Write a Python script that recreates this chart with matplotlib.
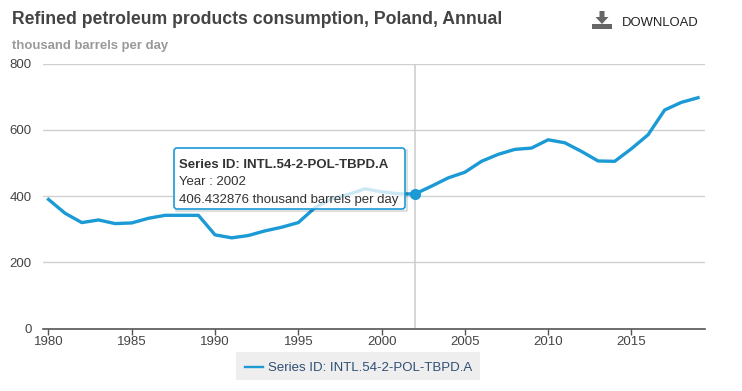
import matplotlib
matplotlib.use("Agg")
import matplotlib.pyplot as plt
from matplotlib.patches import FancyBboxPatch, Rectangle, Polygon

plt.rcParams['font.family'] = ['Liberation Sans', 'DejaVu Sans']

W, H = 742, 391

years = list(range(1980, 2020))
consumption = [390, 348, 320, 328, 317, 319, 333, 342, 342, 342,
               283, 274, 281, 295, 306, 320, 365, 392, 405, 422,
               413, 407, 406.432876, 430, 455, 472, 505, 526, 541, 545,
               570, 561, 535, 506, 505, 543, 585, 660, 683, 697]
y_ticks = [0, 200, 400, 600, 800]
x_ticks = [1980, 1985, 1990, 1995, 2000, 2005, 2010, 2015]
series_name = "Series ID: INTL.54-2-POL-TBPD.A"
hover_year = 2002
hover_value = 406.432876

blue = "#1b9ad6"


# figure coords from reference pixels (y counted from the top)
def fx(px):
    return px / W


def fy(py):
    return 1 - py / H


fig = plt.figure(figsize=(W / 100, H / 100), dpi=100, facecolor="white")
ax = fig.add_axes([fx(43), fy(328.6), (705 - 43) / W, (328.6 - 63.6) / H])

ax.plot(years, consumption, color=blue, lw=2.4, solid_joinstyle="round", zorder=3)
ax.axvline(hover_year, color="#cccccc", lw=1.1, zorder=2)
ax.plot([hover_year], [hover_value], "o", color=blue, ms=7, zorder=4)

ax.set_xlim(1979.67, 2019.42)
ax.set_ylim(0, 800)
ax.set_xticks(x_ticks)
ax.set_yticks(y_ticks)
ax.grid(axis="y", color="#d0d0d0", lw=1)
ax.set_axisbelow(True)
for s in ["top", "left", "right"]:
    ax.spines[s].set_visible(False)
ax.spines["bottom"].set_color("#555555")
ax.spines["bottom"].set_linewidth(1.2)
ax.tick_params(axis="y", length=0, labelsize=9.5, labelcolor="#444444", pad=8)
ax.tick_params(axis="x", length=4, width=1, color="#555555", labelsize=9.5,
               labelcolor="#444444", pad=1)

# title block
fig.text(fx(12), fy(19.5), "Refined petroleum products consumption, Poland, Annual",
         fontsize=12.7, fontweight="bold", color="#444444", va="center")
fig.text(fx(12), fy(45.5), "thousand barrels per day",
         fontsize=9.45, fontweight="bold", color="#999999", va="center")

# download button
icon = "#666666"
fig.add_artist(Rectangle((fx(592), fy(29)), 20 / W, 5 / H, transform=fig.transFigure,
                         color=icon, lw=0))
fig.add_artist(Polygon([(fx(599.5), fy(11)), (fx(604.5), fy(11)), (fx(604.5), fy(17)),
                        (fx(608.5), fy(17)), (fx(602), fy(24)), (fx(595.5), fy(17)),
                        (fx(599.5), fy(17))], transform=fig.transFigure, color=icon, lw=0))
fig.text(fx(622), fy(22.5), "DOWNLOAD", fontsize=9.4, color="#222222", va="center")

# tooltip, the shadow is only a thin edge so the box stays white
fig.add_artist(plt.Line2D([fx(176), fx(406.5), fx(406.5)], [fy(210.5), fy(210.5), fy(150)],
                          transform=fig.transFigure, color="#000000", alpha=0.15, lw=1.2))
tip = FancyBboxPatch((174, H - 209), 231, 61,
                     boxstyle="round,pad=0,rounding_size=3", transform=None,
                     facecolor=(1, 1, 1, 0.78), edgecolor=blue, lw=1.2, zorder=6)
fig.add_artist(tip)
fig.text(fx(179), fy(165), series_name, fontsize=9.55, fontweight="bold",
         color="#333333", va="center", zorder=7)
fig.text(fx(179), fy(181.5), "Year : %d" % hover_year, fontsize=9.55,
         color="#333333", va="center", zorder=7)
fig.text(fx(179), fy(200), "%.6f thousand barrels per day" % hover_value, fontsize=9.55,
         color="#333333", va="center", zorder=7)

# legend
fig.add_artist(Rectangle((fx(236), fy(380)), 244 / W, 28 / H, transform=fig.transFigure,
                         color="#eeeeee", lw=0))
fig.add_artist(plt.Line2D([fx(245), fx(263)], [fy(367.3), fy(367.3)],
                          transform=fig.transFigure, color=blue, lw=1.7))
fig.text(fx(268.5), fy(368), series_name, fontsize=9.55, color="#2f4f73", va="center")

fig.savefig("out.png", dpi=100)
